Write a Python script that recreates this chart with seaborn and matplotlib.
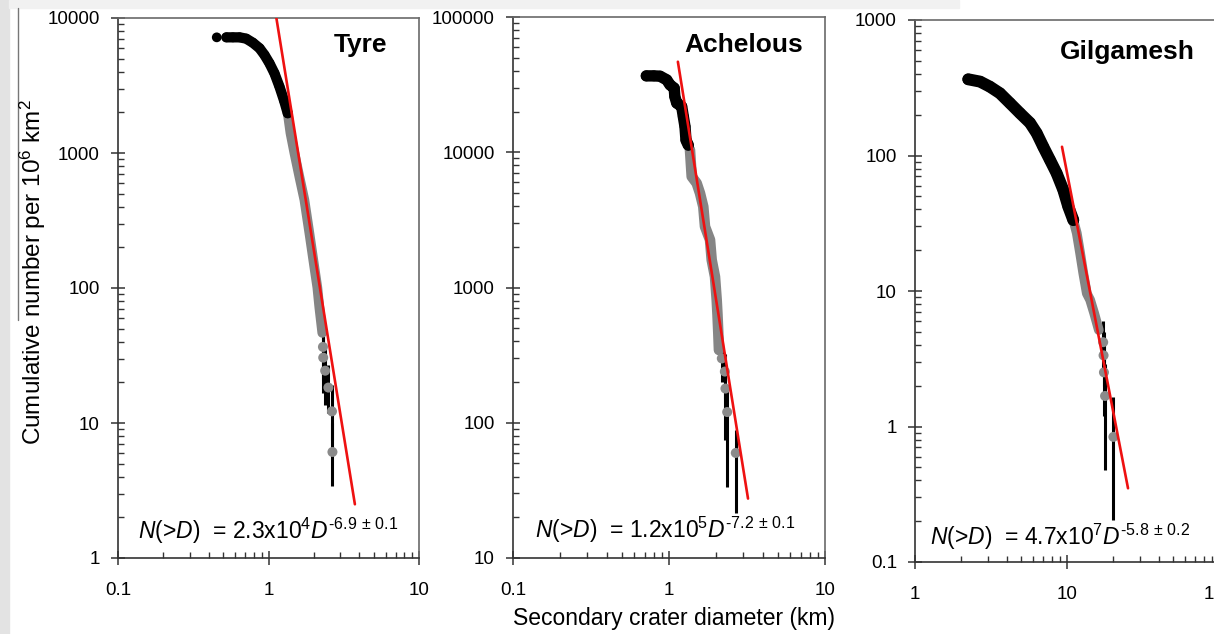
import matplotlib
matplotlib.use("Agg")
import matplotlib.pyplot as plt
import seaborn as sns
import pandas as pd
from matplotlib.ticker import FixedLocator, FixedFormatter, LogLocator, NullFormatter
from matplotlib.patches import Rectangle
from matplotlib.lines import Line2D

# ---------------- data ----------------
panel_names = ["Tyre", "Achelous", "Gilgamesh"]
eq_coef = ["2.3x10", "1.2x10", "4.7x10"]
eq_pow = ["4", "5", "7"]
eq_exp = ["\u20106.9", "\u20107.2", "\u20105.8"]
eq_err = ["0.1", "0.1", "0.2"]

# Tyre
tyre_black_D = [0.453, 0.525, 0.58, 0.643, 0.711, 0.787, 0.872, 0.941, 1.015, 1.096, 1.183, 1.276, 1.342]
tyre_black_N = [7190, 7190, 7190, 7190, 7030, 6560, 5970, 5320, 4620, 3890, 3100, 2400, 1970]
tyre_grey_D = [1.342, 1.399, 1.486, 1.605, 1.732, 1.869, 2.016, 2.111, 2.176, 2.277]
tyre_grey_N = [1970, 1407, 1000, 664, 449, 255, 143, 101, 72, 46.5]
tyre_tail_D = [2.30, 2.31, 2.38, 2.50, 2.64, 2.66]
tyre_tail_N = [36.6, 30.5, 24.4, 18.3, 12.2, 6.1]
tyre_tail_lo = [20.8, 16.7, 13.6, 11.9, 7.5, 3.4]
tyre_tail_hi = [52, 44, 36, 27, 19, 10]
tyre_fit_D = [1.10, 3.75]
tyre_fit_N = [11900, 2.5]

# Achelous
ach_black_D = [0.715, 0.80, 0.876, 0.967, 1.015, 1.08, 1.09, 1.121, 1.206, 1.235, 1.266, 1.285, 1.329]
ach_black_N = [36700, 36700, 36500, 34300, 31500, 29800, 25800, 23100, 21800, 18400, 15500, 12300, 11300]
ach_grey_D = [1.363, 1.398, 1.505, 1.580, 1.659, 1.701, 1.832, 1.878, 1.972, 2.022, 2.046, 2.07, 2.09]
ach_grey_N = [10400, 6610, 5900, 4980, 3960, 2820, 2250, 1600, 1200, 809, 627, 461, 345]
ach_tail_D = [2.18, 2.28, 2.30, 2.36, 2.68]
ach_tail_N = [299, 239, 179, 120, 59.8]
ach_tail_lo = [200, 150, 75, 33.5, 21.5]
ach_tail_hi = [390, 320, 250, 175, 88.5]
ach_fit_D = [1.14, 3.21]
ach_fit_N = [46700, 27.5]

# Gilgamesh
gil_black_D = [2.24, 2.68, 3.11, 3.62, 4.22, 4.91, 5.71, 6.32, 6.98, 7.73, 8.55, 9.46, 10.2, 11.0]
gil_black_N = [365, 351, 322, 288, 243, 205, 174, 146, 116, 92.6, 73.9, 55.6, 41.9, 33.4]
gil_grey_D = [11.0, 11.6, 12.2, 12.8, 13.5, 14.2, 15.1, 16.2]
gil_grey_N = [33.4, 26.7, 19.0, 13.5, 9.6, 8.59, 6.84, 5.15]
gil_tail_D = [17.3, 17.4, 17.5, 17.8, 20.2]
gil_tail_N = [4.19, 3.35, 2.51, 1.68, 0.838]
gil_tail_lo = [2.6, 2.0, 1.2, 0.478, 0.204]
gil_tail_hi = [6.0, 5.0, 4.0, 2.9, 1.65]
gil_fit_D = [9.27, 25.2]
gil_fit_N = [116, 0.35]

# axes ticks
tyre_xticks = [0.1, 1, 10]
tyre_xlabels = ["0.1", "1", "10"]
tyre_yticks = [1, 10, 100, 1000, 10000]
tyre_ylabels = ["1", "10", "100", "1000", "10000"]
ach_xticks = [0.1, 1, 10]
ach_xlabels = ["0.1", "1", "10"]
ach_yticks = [10, 100, 1000, 10000, 100000]
ach_ylabels = ["10", "100", "1000", "10000", "100000"]
gil_xticks = [1, 10, 100]
gil_xlabels = ["1", "10", "100"]
gil_yticks = [0.1, 1, 10, 100, 1000]
gil_ylabels = ["0.1", "1", "10", "100", "1000"]

# ---------------- style ----------------
sns.set_style("white")
plt.rcParams['font.family'] = ['Liberation Sans', 'DejaVu Sans']
plt.rcParams['mathtext.fontset'] = 'custom'
plt.rcParams['mathtext.rm'] = 'Liberation Sans'
plt.rcParams['mathtext.it'] = 'Liberation Sans:italic'
plt.rcParams['mathtext.bf'] = 'Liberation Sans:bold'
plt.rcParams['mathtext.fallback'] = 'stixsans'

W, H = 1214, 634
fig = plt.figure(figsize=(W / 100, H / 100), dpi=100)
fig.patch.set_facecolor("white")

# slide background bits
fig.patches.append(Rectangle((0, 0), 9 / W, 1, transform=fig.transFigure, color="#e3e3e3", zorder=0))
fig.patches.append(Rectangle((9 / W, 1 - 8 / H), 950 / W, 8 / H, transform=fig.transFigure, color="#f1f1f1", zorder=0))
fig.add_artist(Line2D([18 / W, 18 / W], [1 - 8 / H, 1 - 320 / H], transform=fig.transFigure, color="#777777", lw=1.0))


def px_rect(l, t, r, b):
    return [l / W, 1 - b / H, (r - l) / W, (b - t) / H]


panels = [
    dict(rect=px_rect(118, 18, 419, 558), xlim=(0.1, 10), ylim=(1, 10000),
         black=(tyre_black_D, tyre_black_N), grey=(tyre_grey_D, tyre_grey_N),
         tail=(tyre_tail_D, tyre_tail_N, tyre_tail_lo, tyre_tail_hi), fit=(tyre_fit_D, tyre_fit_N),
         xt=(tyre_xticks, tyre_xlabels), yt=(tyre_yticks, tyre_ylabels),
         title_xy=(0.804, 0.95), eq_px=(138, 539), blw=7.4, glw=7.0, sep_first=True),
    dict(rect=px_rect(513, 17, 825, 558), xlim=(0.1, 10), ylim=(10, 100000),
         black=(ach_black_D, ach_black_N), grey=(ach_grey_D, ach_grey_N),
         tail=(ach_tail_D, ach_tail_N, ach_tail_lo, ach_tail_hi), fit=(ach_fit_D, ach_fit_N),
         xt=(ach_xticks, ach_xlabels), yt=(ach_yticks, ach_ylabels),
         title_xy=(0.740, 0.948), eq_px=(535, 538), blw=8.2, glw=7.6, sep_first=False),
    dict(rect=px_rect(915, 20, 1219, 562), xlim=(1, 100), ylim=(0.1, 1000),
         black=(gil_black_D, gil_black_N), grey=(gil_grey_D, gil_grey_N),
         tail=(gil_tail_D, gil_tail_N, gil_tail_lo, gil_tail_hi), fit=(gil_fit_D, gil_fit_N),
         xt=(gil_xticks, gil_xlabels), yt=(gil_yticks, gil_ylabels),
         title_xy=(0.697, 0.941), eq_px=(930, 545), blw=8.6, glw=7.0, sep_first=False),
]

for i, (name, p) in enumerate(zip(panel_names, panels)):
    ax = fig.add_axes(p["rect"])
    ax.set_facecolor("white")
    ax.set_xscale("log")
    ax.set_yscale("log")

    tD, tN, tlo, thi = p["tail"]
    # error bars (black)
    ax.vlines(tD, tlo, thi, colors="black", linewidth=2.2, zorder=2)

    # grey fitted-range band
    gD, gN = p["grey"]
    gdf = pd.DataFrame({"D": gD, "N": gN})
    sns.lineplot(data=gdf, x="D", y="N", ax=ax, sort=False, estimator=None, color="#858585",
                 linewidth=p["glw"], solid_capstyle="round", zorder=3)
    tdf = pd.DataFrame({"D": tD, "N": tN})
    sns.scatterplot(data=tdf, x="D", y="N", ax=ax, color="#8a8a8a", s=52, edgecolor="none", zorder=4)

    # black unfitted band
    bD, bN = p["black"]
    bdf = pd.DataFrame({"D": bD, "N": bN})
    line_df = bdf.iloc[1:] if p["sep_first"] else bdf
    sns.lineplot(data=line_df, x="D", y="N", ax=ax, sort=False, estimator=None, color="black",
                 linewidth=p["blw"], solid_capstyle="round", zorder=5)
    sns.scatterplot(data=bdf, x="D", y="N", ax=ax, color="black", s=(p["blw"] ** 2) * 0.9,
                    edgecolor="none", zorder=5)

    # power-law fit
    fD, fN = p["fit"]
    fdf = pd.DataFrame({"D": fD, "N": fN})
    sns.lineplot(data=fdf, x="D", y="N", ax=ax, sort=False, estimator=None, color="#ee1111",
                 linewidth=1.9, zorder=6)

    ax.set_xlim(*p["xlim"])
    ax.set_ylim(*p["ylim"])
    ax.set_xlabel("")
    ax.set_ylabel("")

    ax.xaxis.set_major_locator(FixedLocator(p["xt"][0]))
    ax.xaxis.set_major_formatter(FixedFormatter(p["xt"][1]))
    ax.yaxis.set_major_locator(FixedLocator(p["yt"][0]))
    ax.yaxis.set_major_formatter(FixedFormatter(p["yt"][1]))
    ax.xaxis.set_minor_locator(LogLocator(base=10, subs=range(2, 10), numticks=20))
    ax.yaxis.set_minor_locator(LogLocator(base=10, subs=range(2, 10), numticks=20))
    ax.xaxis.set_minor_formatter(NullFormatter())
    ax.yaxis.set_minor_formatter(NullFormatter())

    ax.tick_params(which="major", direction="inout", length=10, width=1.1, color="#333333",
                   labelsize=13.5, labelcolor="black")
    ax.tick_params(which="minor", direction="in", length=4.5, width=1.0, color="#333333")
    ax.tick_params(axis="x", which="major", pad=12)
    ax.tick_params(axis="y", which="major", pad=8)
    ax.tick_params(bottom=True, left=True, top=False, right=False, which="both")

    for side in ["left", "bottom"]:
        ax.spines[side].set_color("#333333")
        ax.spines[side].set_linewidth(1.2)
    for side in ["top", "right"]:
        ax.spines[side].set_color("#6a6a6a")
        ax.spines[side].set_linewidth(1.2)
        ax.spines[side].set_visible(True)

    ax.text(p["title_xy"][0], p["title_xy"][1], name, transform=ax.transAxes, ha="center", va="center",
            fontsize=19, fontweight="bold", color="black", zorder=7)
    eq = (r"$\mathit{N}$(>$\mathit{D}$)  = " + eq_coef[i] + r"$^{" + eq_pow[i] + r"}\mathit{D}^{\mathrm{"
          + eq_exp[i] + r"}\,\pm\,\mathrm{" + eq_err[i] + r"}}$")
    ex, ey = p["eq_px"]
    fig.text(ex / W, 1 - ey / H, eq, ha="left", va="baseline", fontsize=16.5, color="black")

fig.text(674 / W, 1 - 619 / H, "Secondary crater diameter (km)", ha="center", va="center",
         fontsize=16.5, color="black")
fig.text(33 / W, 1 - 272 / H, r"Cumulative number per 10$^{6}$ km$^{2}$", ha="center", va="center",
         rotation=90, fontsize=17.5, color="black")

fig.savefig("out.png", dpi=100, facecolor=fig.get_facecolor())
